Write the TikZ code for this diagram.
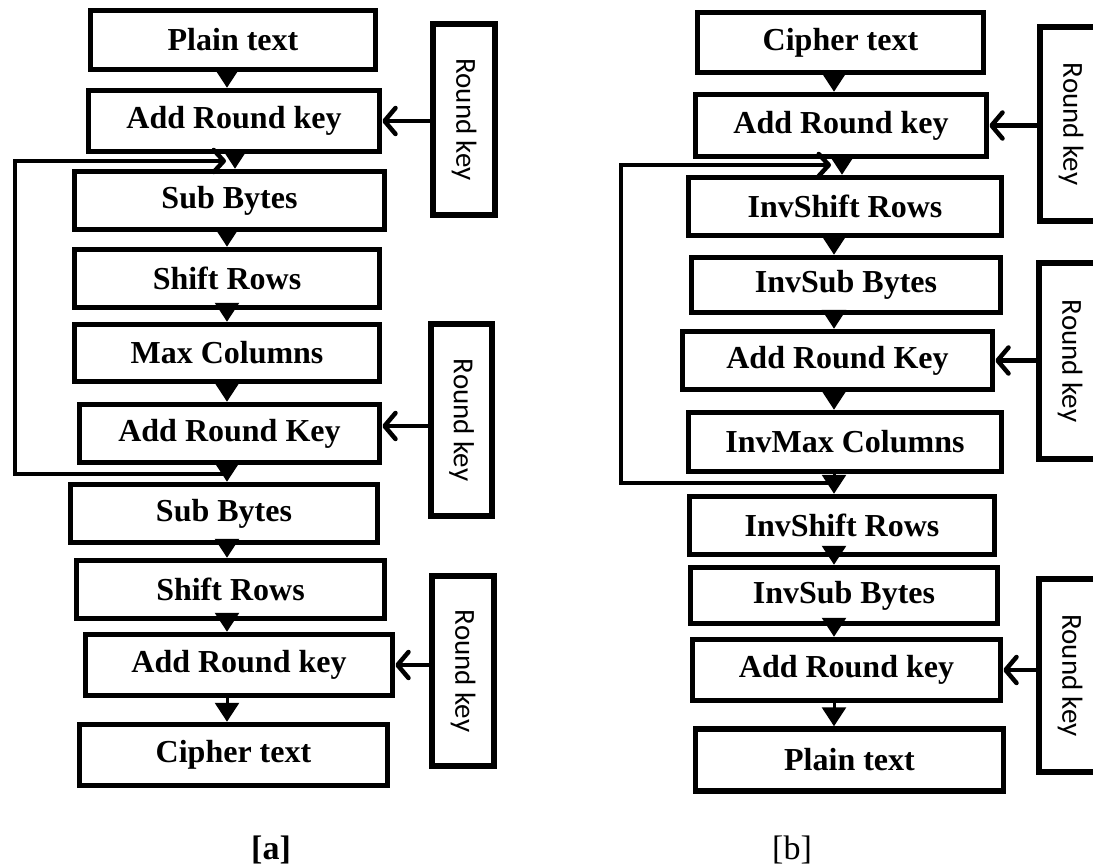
\documentclass[tikz,border=0pt]{standalone}
\usepackage{fontspec}
\usepackage{graphicx}
\setmainfont{Liberation Serif}
\newfontfamily\keyfont{Carlito}
\usetikzlibrary{arrows.meta}
\begin{document}
\begin{tikzpicture}[x=1pt,y=-1pt,
  box/.style={draw, line width=5.5pt, inner sep=0pt, font=\bfseries\fontsize{32}{36}\selectfont},
  keybox/.style={draw, line width=5.5pt, inner sep=0pt, font=\keyfont\fontsize{29}{32}\selectfont},
  flow/.style={line width=3pt, -{Triangle[length=19pt,width=24pt]}},
  keyarrow/.style={line width=4.5pt, line cap=round, -{Straight Barb[length=11pt,width=26pt,round]}},
  loopline/.style={line width=4.5pt, -{Straight Barb[length=10pt,width=22pt,round]}},
  labb/.style={font=\bfseries\fontsize{34}{40}\selectfont},
  labn/.style={font=\fontsize{34}{40}\selectfont}
]
\useasboundingbox (0,0) rectangle (1093,867);

% ---------- left column [a] ----------
\node[box, minimum width=285pt, minimum height=59pt] (a1) at (233,40) {Plain text};
\node[box, minimum width=291pt, minimum height=61pt] (a2) at (234,121) {Add Round key};
\node[box, minimum width=310pt, minimum height=58pt] (a3) at (229.5,200.5) {Sub Bytes};
\node[box, minimum width=305pt, minimum height=58pt] (a4) at (227,278.5) {Shift Rows};
\node[box, minimum width=305pt, minimum height=57pt] (a5) at (227,353) {Max Columns};
\node[box, minimum width=300pt, minimum height=58pt] (a6) at (229.5,433.5) {Add Round Key};
\node[box, minimum width=307pt, minimum height=58pt] (a7) at (224,513.5) {Sub Bytes};
\node[box, minimum width=308pt, minimum height=58pt] (a8) at (230.5,589.5) {Shift Rows};
\node[box, minimum width=307pt, minimum height=61pt] (a9) at (239,665) {Add Round key};
\node[box, minimum width=308pt, minimum height=61pt] (a10) at (233.5,755) {Cipher text};

\node[keybox, minimum width=62pt, minimum height=191pt] (ka1) at (464,119.5) {\rotatebox{-90}{Round key}};
\node[keybox, minimum width=61pt, minimum height=192pt] (ka2) at (461.5,420) {\rotatebox{-90}{Round key}};
\node[keybox, minimum width=62pt, minimum height=190pt] (ka3) at (463,671) {\rotatebox{-90}{Round key}};

\coordinate (ca) at (227,0);
\coordinate (ca2) at (235,0);
\draw[flow] (a1.south -| ca) -- (a2.north -| ca);
\draw[flow] (a2.south -| ca2) -- (a3.north -| ca2);
\draw[flow] (a3.south -| ca) -- (a4.north -| ca);
\draw[flow] (a4.south -| ca) -- (a5.north -| ca);
\draw[flow] (a5.south -| ca) -- (a6.north -| ca);
\draw[flow] (a6.south -| ca) -- (a7.north -| ca);
\draw[flow] (a7.south -| ca) -- (a8.north -| ca);
\draw[flow] (a8.south -| ca) -- (a9.north -| ca);
\draw[flow] (a9.south -| ca) -- (a10.north -| ca);

\coordinate (kya2) at (0,426);
\draw[keyarrow] (ka1.west |- a2.east) -- (a2.east);
\draw[keyarrow] (ka2.west |- kya2) -- (a6.east |- kya2);
\draw[keyarrow] (ka3.west |- a9.east) -- (a9.east);

\coordinate (la) at (224,474);
\coordinate (lt) at (226,161);
\coordinate (lx) at (15,0);
\draw[loopline] (la) -- (la -| lx) |- (lt);

\node[labb] (laba) at (271,850) {[a]};

% ---------- right column [b] ----------
\node[box, minimum width=286pt, minimum height=60pt] (b1) at (840.5,42.5) {Cipher text};
\node[box, minimum width=291pt, minimum height=62pt] (b2) at (841,125.5) {Add Round key};
\node[box, minimum width=313pt, minimum height=58pt] (b3) at (845,206.5) {InvShift Rows};
\node[box, minimum width=309pt, minimum height=55pt] (b4) at (846,285) {InvSub Bytes};
\node[box, minimum width=310pt, minimum height=58pt] (b5) at (837.5,360.5) {Add Round Key};
\node[box, minimum width=313pt, minimum height=59pt] (b6) at (845,442) {InvMax Columns};
\node[box, minimum width=305pt, minimum height=58pt] (b7) at (842,525.5) {InvShift Rows};
\node[box, minimum width=307pt, minimum height=56pt] (b8) at (844,595.5) {InvSub Bytes};
\node[box, minimum width=308pt, minimum height=61pt] (b9) at (846.5,670) {Add Round key};
\node[box, minimum width=308pt, minimum height=62pt] (b10) at (849.5,760) {Plain text};

\node[keybox, minimum width=62pt, minimum height=194pt] (kb1) at (1071,124) {\rotatebox{-90}{Round key}};
\node[keybox, minimum width=62pt, minimum height=196pt] (kb2) at (1070,361) {\rotatebox{-90}{Round key}};
\node[keybox, minimum width=62pt, minimum height=193pt] (kb3) at (1070,675.5) {\rotatebox{-90}{Round key}};

\coordinate (cb) at (834,0);
\coordinate (cb2) at (842,0);
\draw[flow] (b1.south -| cb) -- (b2.north -| cb);
\draw[flow] (b2.south -| cb2) -- (b3.north -| cb2);
\draw[flow] (b3.south -| cb) -- (b4.north -| cb);
\draw[flow] (b4.south -| cb) -- (b5.north -| cb);
\draw[flow] (b5.south -| cb) -- (b6.north -| cb);
\draw[flow] (b6.south -| cb) -- (b7.north -| cb);
\draw[flow] (b7.south -| cb) -- (b8.north -| cb);
\draw[flow] (b8.south -| cb) -- (b9.north -| cb);
\draw[flow] (b9.south -| cb) -- (b10.north -| cb);

\draw[keyarrow] (kb1.west |- b2.east) -- (b2.east);
\draw[keyarrow] (kb2.west |- b5.east) -- (b5.east);
\draw[keyarrow] (kb3.west |- b9.east) -- (b9.east);

\coordinate (ra) at (830,483);
\coordinate (rt) at (831,165);
\coordinate (rx) at (621,0);
\draw[loopline] (ra) -- (ra -| rx) |- (rt);

\node[labn] (labb) at (792,850) {[b]};
\end{tikzpicture}
\end{document}
